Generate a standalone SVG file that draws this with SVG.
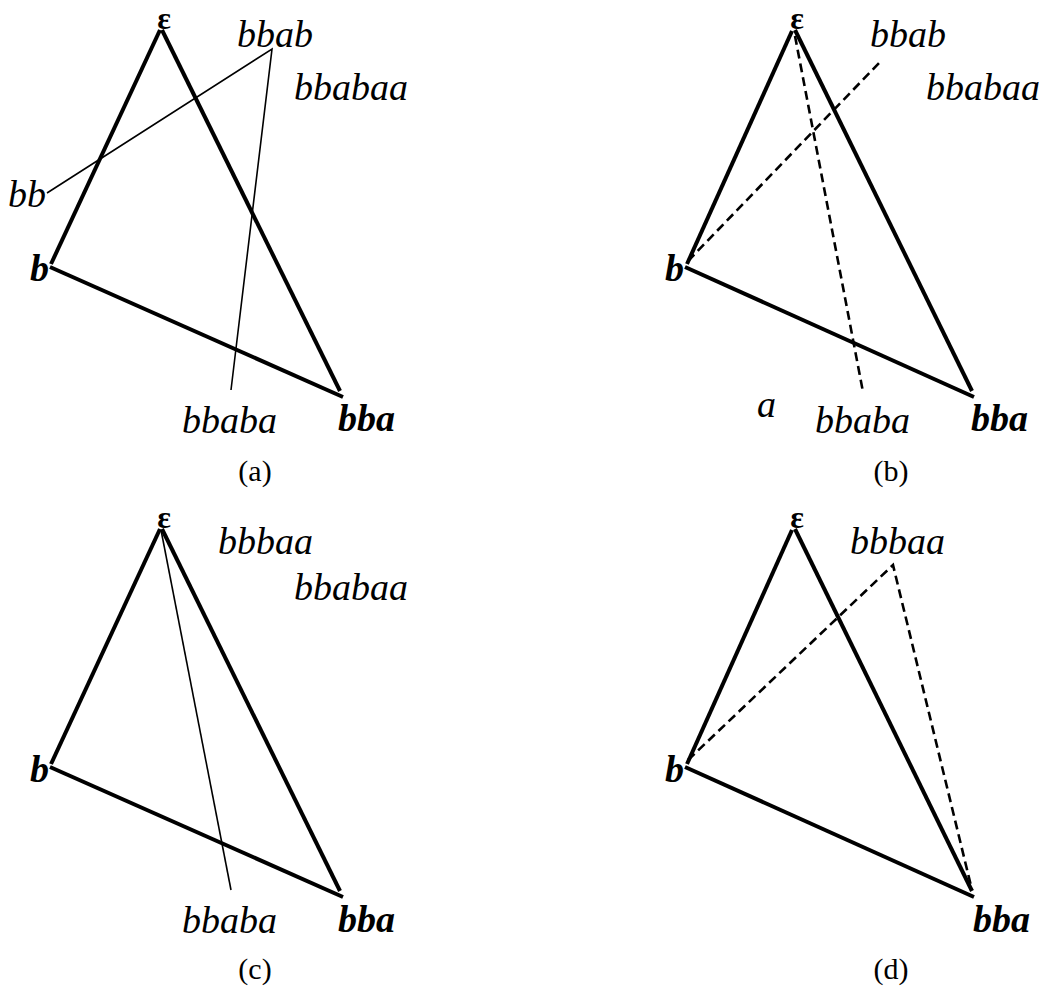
<svg xmlns="http://www.w3.org/2000/svg" width="1050" height="992" viewBox="0 0 1050 992">
<style>
.t{font-family:"Liberation Serif","Times New Roman",serif;font-style:italic;font-size:38px;fill:#000}
.tb{font-family:"Liberation Serif","Times New Roman",serif;font-style:italic;font-weight:bold;font-size:38px;fill:#000}
.eps{font-family:"Liberation Serif","Times New Roman",serif;font-weight:bold;font-size:32px;fill:#000}
.cap{font-family:"Liberation Serif","Times New Roman",serif;font-size:30px;fill:#000}
.edge{stroke:#000;stroke-width:4;fill:none}
.thin{stroke:#000;stroke-width:1.6;fill:none}
.dash{stroke:#000;stroke-width:2.6;fill:none;stroke-dasharray:9 5}
</style>
<rect width="1050" height="992" fill="#fff"/>

<g id="panel-a">
  <g id="a-edges">
    <line class="edge" x1="51" y1="264" x2="160" y2="30"/>
    <line class="edge" x1="162" y1="30" x2="340" y2="391"/>
    <line class="edge" x1="50" y1="267" x2="343" y2="397"/>
  </g>
  <g id="a-connectors">
    <polyline class="thin" points="47,193 272,49 231,390"/>
  </g>
  <g id="a-eps"><text class="eps" x="164" y="29" text-anchor="middle">ε</text></g>
  <g id="a-b"><text class="tb" x="30" y="281">b</text></g>
  <g id="a-bba"><text class="tb" x="338" y="431">bba</text></g>
  <g id="a-bb"><text class="t" x="8" y="207">bb</text></g>
  <g id="a-bbab"><text class="t" x="237" y="47">bbab</text></g>
  <g id="a-bbabaa"><text class="t" x="294" y="100">bbabaa</text></g>
  <g id="a-bbaba"><text class="t" x="182" y="433">bbaba</text></g>
  <text class="cap" x="255" y="481" text-anchor="middle">(a)</text>
</g>

<g id="panel-b">
  <g id="b-edges">
    <line class="edge" x1="687" y1="264" x2="792" y2="31"/>
    <line class="edge" x1="795" y1="30" x2="972" y2="391"/>
    <line class="edge" x1="685" y1="267" x2="974" y2="397"/>
  </g>
  <g id="b-connectors">
    <line class="dash" x1="688" y1="261" x2="880" y2="62"/>
    <line class="dash" x1="795" y1="36" x2="863" y2="392"/>
  </g>
  <g id="b-eps"><text class="eps" x="797" y="29" text-anchor="middle">ε</text></g>
  <g id="b-b"><text class="tb" x="665" y="281">b</text></g>
  <g id="b-bba"><text class="tb" x="971" y="431">bba</text></g>
  <g id="b-bbab"><text class="t" x="870" y="47">bbab</text></g>
  <g id="b-bbabaa"><text class="t" x="926" y="100">bbabaa</text></g>
  <g id="b-a"><text class="t" x="757" y="417">a</text></g>
  <g id="b-bbaba"><text class="t" x="815" y="433">bbaba</text></g>
  <text class="cap" x="891" y="481" text-anchor="middle">(b)</text>
</g>

<g id="panel-c">
  <g id="c-edges">
    <line class="edge" x1="51" y1="764" x2="160" y2="529"/>
    <line class="edge" x1="162" y1="529" x2="340" y2="891"/>
    <line class="edge" x1="50" y1="767" x2="343" y2="897"/>
  </g>
  <g id="c-connectors">
    <line class="thin" x1="161" y1="530" x2="231" y2="890"/>
  </g>
  <g id="c-eps"><text class="eps" x="164" y="528" text-anchor="middle">ε</text></g>
  <g id="c-b"><text class="tb" x="30" y="782">b</text></g>
  <g id="c-bba"><text class="tb" x="338" y="932">bba</text></g>
  <g id="c-bbbaa"><text class="t" x="218" y="554">bbbaa</text></g>
  <g id="c-bbabaa"><text class="t" x="294" y="600">bbabaa</text></g>
  <g id="c-bbaba"><text class="t" x="182" y="933">bbaba</text></g>
  <text class="cap" x="255" y="979" text-anchor="middle">(c)</text>
</g>

<g id="panel-d">
  <g id="d-edges">
    <line class="edge" x1="687" y1="764" x2="792" y2="530"/>
    <line class="edge" x1="795" y1="529" x2="972" y2="891"/>
    <line class="edge" x1="685" y1="767" x2="974" y2="897"/>
  </g>
  <g id="d-connectors">
    <polyline class="dash" points="688,760 893,565 972,890"/>
  </g>
  <g id="d-eps"><text class="eps" x="797" y="528" text-anchor="middle">ε</text></g>
  <g id="d-b"><text class="tb" x="665" y="782">b</text></g>
  <g id="d-bba"><text class="tb" x="973" y="932">bba</text></g>
  <g id="d-bbbaa"><text class="t" x="850" y="554">bbbaa</text></g>
  <text class="cap" x="891" y="979" text-anchor="middle">(d)</text>
</g>
</svg>
